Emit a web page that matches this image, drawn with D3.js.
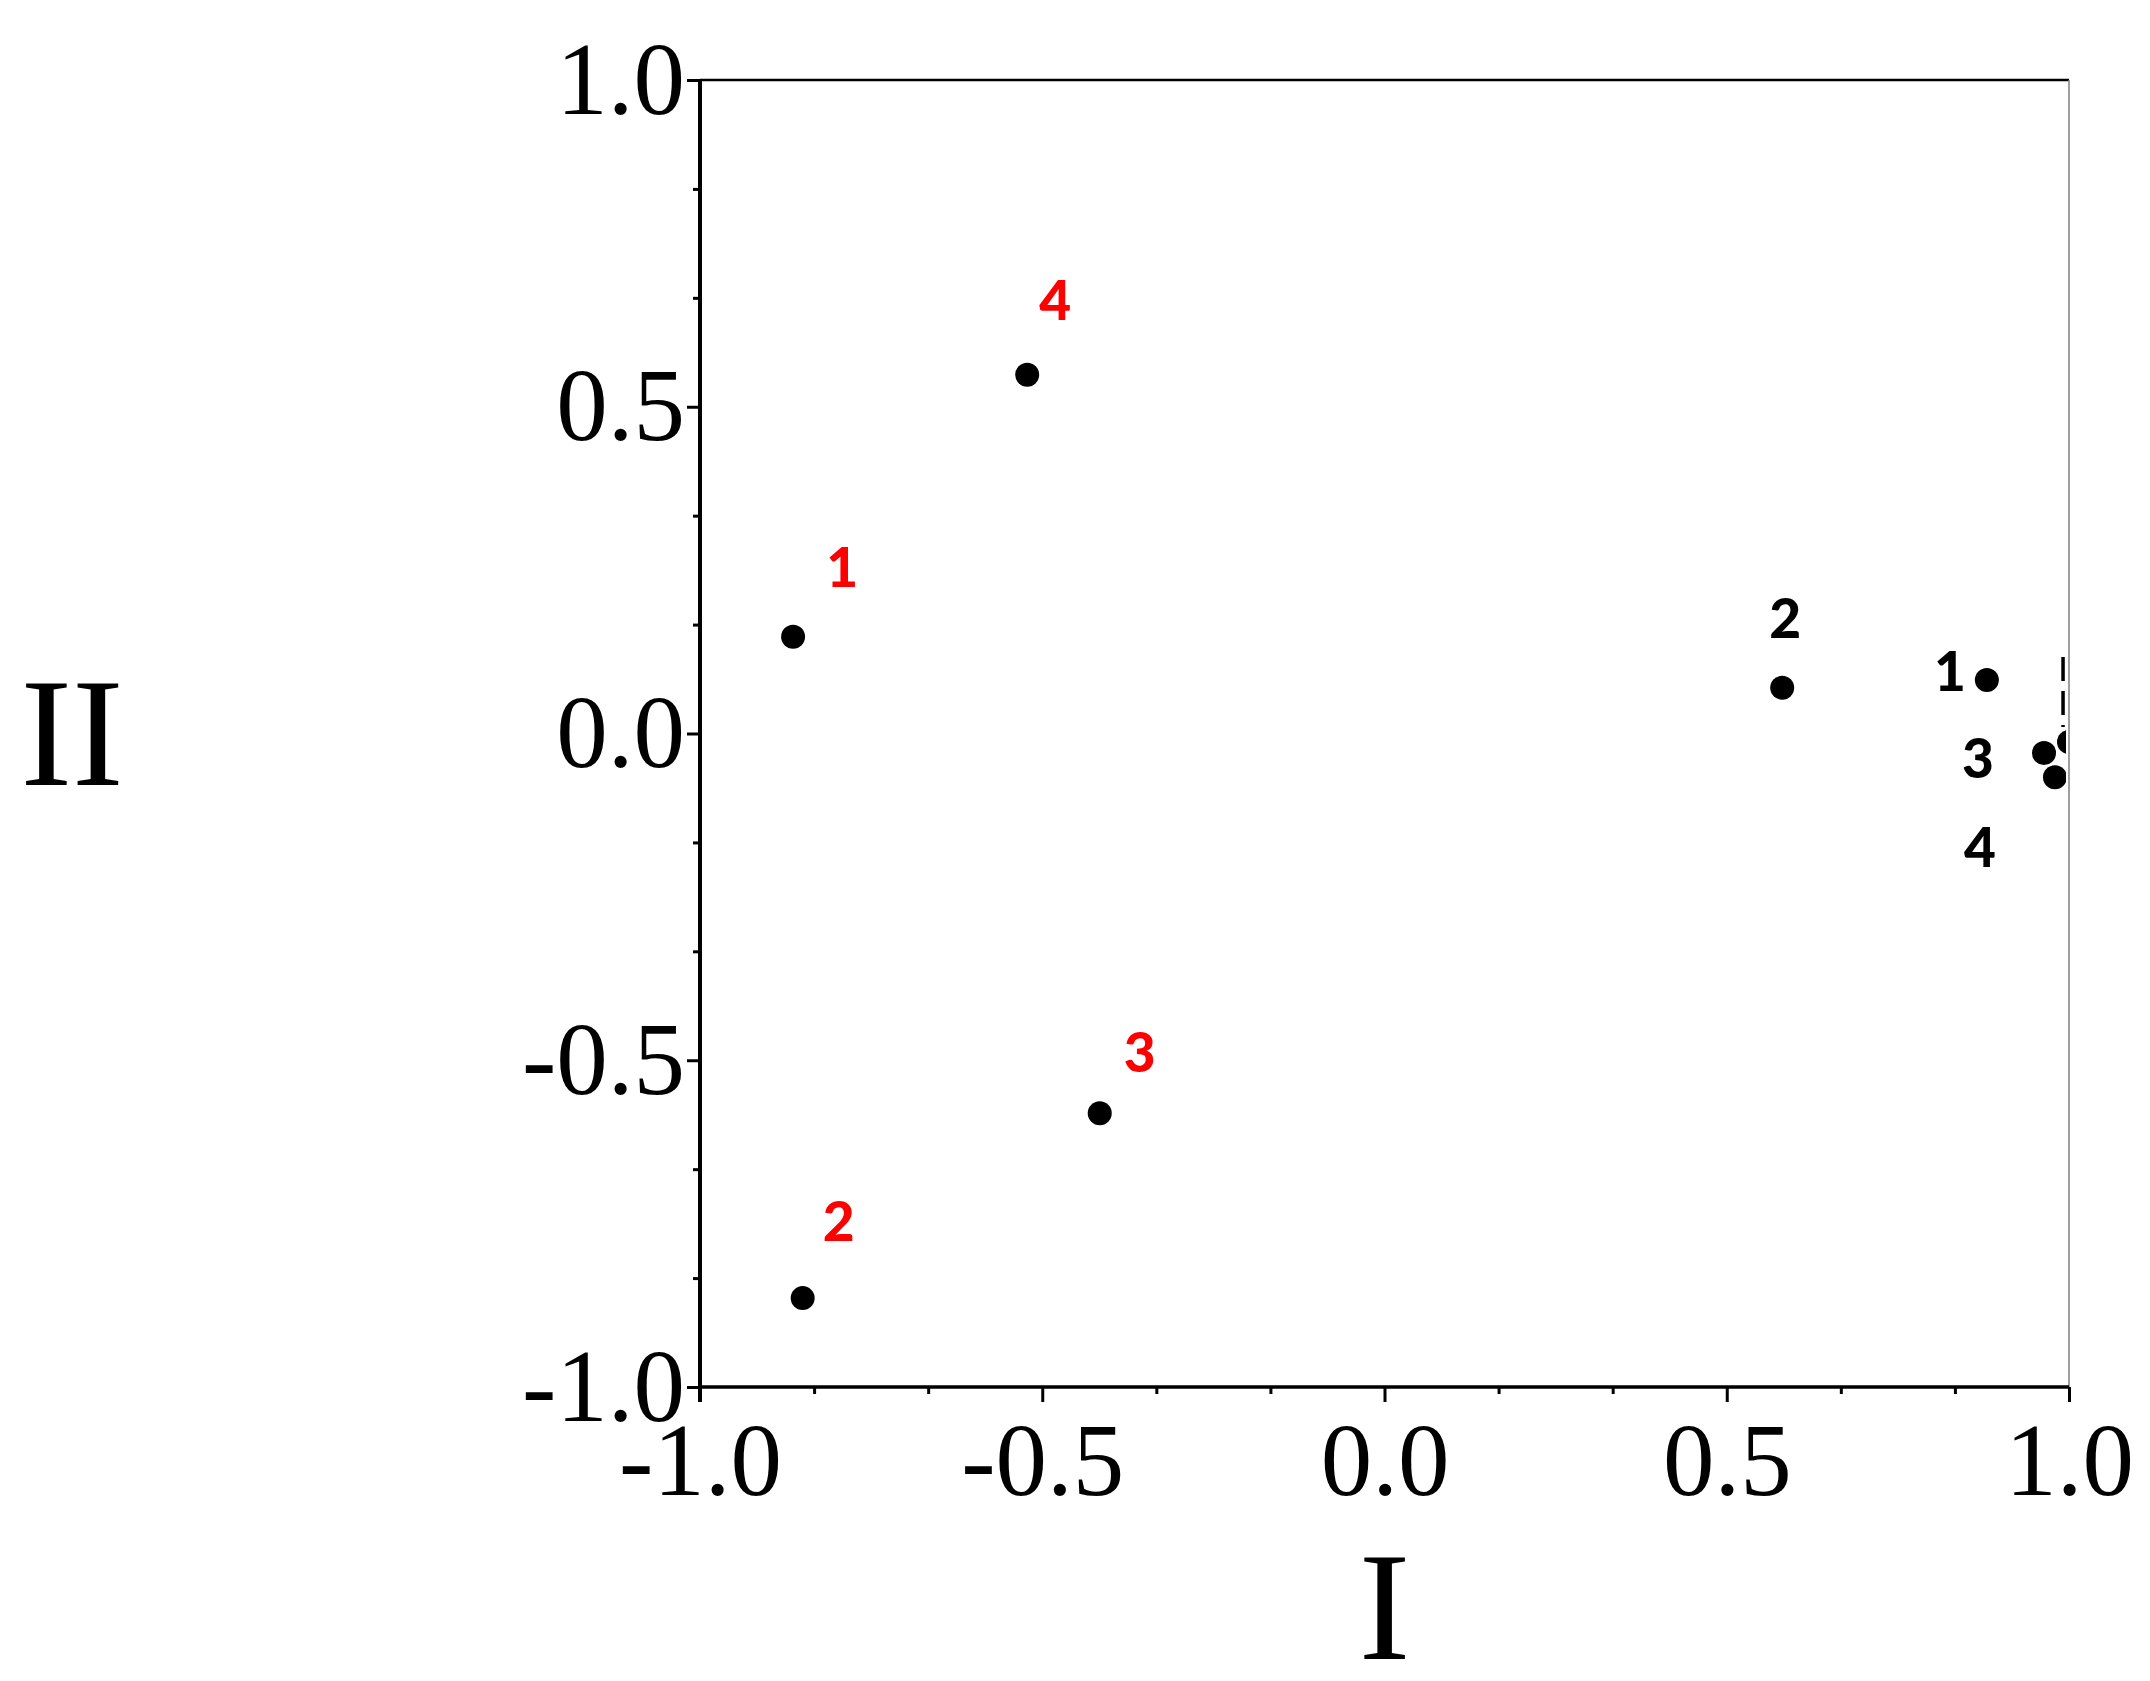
<!DOCTYPE html>
<html>
<head>
<meta charset="utf-8">
<script src="https://cdn.jsdelivr.net/npm/d3@7"></script>
<style>
  html, body { margin: 0; padding: 0; background: #fff; }
  svg { display: block; }
</style>
</head>
<body>
<svg id="chart" width="2150" height="1681"></svg>
<script>
// ---- data ----
const xLabel = "I";
const yLabel = "II";
const majorTicks = [-1.0, -0.5, 0.0, 0.5, 1.0];
const minorTicks = [-5/6, -4/6, -2/6, -1/6, 1/6, 2/6, 4/6, 5/6];

// red-labelled group
const redNames = ["1", "2", "3", "4"];
const redX = [-0.864, -0.850, -0.416, -0.522];
const redY = [0.148, -0.864, -0.581, 0.549];

// black-labelled group
const blackNames = ["1", "2", "3", "4"];
const blackX = [0.880, 0.581, 0.9635, 0.9795];
const blackY = [0.082, 0.070, -0.030, -0.067];

// extra clipped point and dashed fragment at the right edge
const edgeX = [1.0];
const edgeY = [-0.013];
const dashX = [0.9913, 0.9913];
const dashY = [0.117, 0.010];

// label offsets (pixels) relative to each point
const redOffsets = [[49, -70], [36, -77], [40, -61], [28, -75]];
const blackOffsets = [[-37, -9], [3, -70], [-66, 5], [-75, 70]];

// ---- layout ----
const svg = d3.select("#chart");
const L = 700, R = 2069, T = 80, B = 1387;
const x = d3.scaleLinear().domain([-1, 1]).range([L, R]);
const y = d3.scaleLinear().domain([-1, 1]).range([B, T]);
const fmt = d => d.toFixed(1);
const serif = "'Liberation Serif', 'Times New Roman', serif";

// clip
svg.append("defs").append("clipPath").attr("id", "plotclip")
  .append("rect").attr("x", L).attr("y", T).attr("width", 2066 - L).attr("height", B - T);

// frame top / right
svg.append("line").attr("x1", L).attr("x2", R).attr("y1", T).attr("y2", T)
  .attr("stroke", "#000").attr("stroke-width", 2.5);
svg.append("line").attr("x1", R).attr("x2", R).attr("y1", T).attr("y2", B)
  .attr("stroke", "#888").attr("stroke-width", 1.6);

// bottom axis
const gx = svg.append("g").attr("transform", `translate(0,${B})`);
gx.call(d3.axisBottom(x).tickValues(majorTicks).tickSize(15).tickFormat(fmt));
gx.select(".domain").remove();
gx.selectAll(".tick line").attr("stroke", "#000").attr("stroke-width", 3);
gx.selectAll(".tick text").attr("dy", null).attr("y", 108)
  .attr("font-family", serif).attr("font-size", 103).attr("fill", "#000");
const gxm = svg.append("g").attr("transform", `translate(0,${B})`);
gxm.call(d3.axisBottom(x).tickValues(minorTicks).tickSize(7).tickFormat(""));
gxm.select(".domain").remove();
gxm.selectAll(".tick line").attr("stroke", "#000").attr("stroke-width", 3);

// left axis
const gy = svg.append("g").attr("transform", `translate(${L},0)`);
gy.call(d3.axisLeft(y).tickValues(majorTicks).tickSize(13).tickFormat(fmt));
gy.select(".domain").remove();
gy.selectAll(".tick line").attr("stroke", "#000").attr("stroke-width", 3);
gy.selectAll(".tick text").attr("dy", null).attr("y", 33).attr("x", -15)
  .attr("font-family", serif).attr("font-size", 103).attr("fill", "#000");
const gym = svg.append("g").attr("transform", `translate(${L},0)`);
gym.call(d3.axisLeft(y).tickValues(minorTicks).tickSize(7).tickFormat(""));
gym.select(".domain").remove();
gym.selectAll(".tick line").attr("stroke", "#000").attr("stroke-width", 3);

// axis lines
svg.append("line").attr("x1", L).attr("x2", R).attr("y1", B).attr("y2", B)
  .attr("stroke", "#000").attr("stroke-width", 3.5);
svg.append("line").attr("x1", L).attr("x2", L).attr("y1", T).attr("y2", B + 15)
  .attr("stroke", "#000").attr("stroke-width", 4);

// axis titles
svg.append("text").attr("x", (L + R) / 2).attr("y", 1659).attr("text-anchor", "middle")
  .attr("font-family", serif).attr("font-size", 155).attr("fill", "#000").text(xLabel);
svg.append("text").attr("x", 72).attr("y", 785).attr("text-anchor", "middle")
  .attr("font-family", serif).attr("font-size", 155).attr("fill", "#000").text(yLabel);

// points
const plot = svg.append("g").attr("clip-path", "url(#plotclip)");
const red = redNames.map((n, i) => ({ n, x: redX[i], y: redY[i], o: redOffsets[i] }));
const black = blackNames.map((n, i) => ({ n, x: blackX[i], y: blackY[i], o: blackOffsets[i] }));
const edge = edgeX.map((v, i) => ({ x: v, y: edgeY[i] }));

plot.append("path")
  .datum(dashX.map((v, i) => [v, dashY[i]]))
  .attr("d", d3.line().x(d => x(d[0])).y(d => y(d[1])))
  .attr("fill", "none").attr("stroke", "#000").attr("stroke-width", 3.5)
  .attr("stroke-dasharray", "24,10");

plot.selectAll("circle.pt")
  .data([...red, ...black, ...edge])
  .join("circle").attr("class", "pt")
  .attr("cx", d => x(d.x)).attr("cy", d => y(d.y)).attr("r", 12).attr("fill", "#000");

const lblFont = "Lato, 'Open Sans', sans-serif";
svg.selectAll("text.rl").data(red).join("text").attr("class", "rl")
  .attr("x", d => x(d.x) + d.o[0]).attr("y", d => y(d.y) + d.o[1] + 20)
  .attr("text-anchor", "middle").attr("font-family", lblFont).attr("font-weight", 900)
  .attr("font-size", 55).attr("fill", "#ff0000").text(d => d.n);
svg.selectAll("text.bl").data(black).join("text").attr("class", "bl")
  .attr("x", d => x(d.x) + d.o[0]).attr("y", d => y(d.y) + d.o[1] + 20)
  .attr("text-anchor", "middle").attr("font-family", lblFont).attr("font-weight", 900)
  .attr("font-size", 55).attr("fill", "#000").text(d => d.n);
</script>
</body>
</html>
